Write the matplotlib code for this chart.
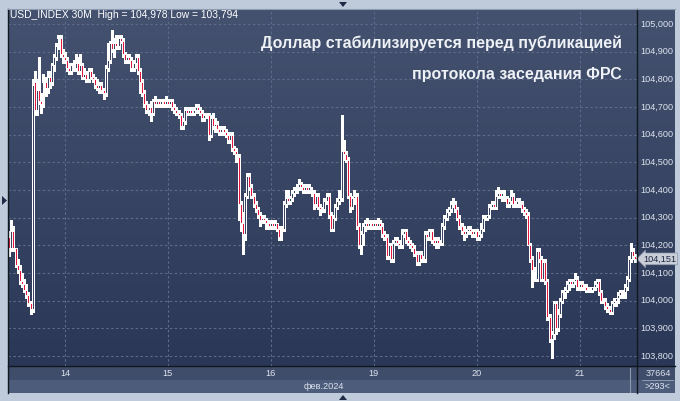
import numpy as np
import matplotlib
matplotlib.use("Agg")
import matplotlib.pyplot as plt
from matplotlib.collections import LineCollection, PolyCollection
from matplotlib.patches import Polygon, Rectangle

# ---------------- data (30-minute bars, USD_INDEX) ----------------
opens = [
    # Feb 13
    104.23, 104.19, 104.25, 104.19, 104.13, 104.11, 104.07, 104.06, 104.04, 104.02, 103.99, 103.97,
    104.79, 104.69, 104.76, 104.72, 104.71, 104.79, 104.77, 104.81, 104.79, 104.85, 104.88, 104.92, 104.95, 104.89,
    # Feb 14
    104.88, 104.87, 104.84, 104.83, 104.85, 104.84, 104.86, 104.83, 104.85, 104.81, 104.82, 104.80,
    104.83, 104.81, 104.80, 104.78, 104.77, 104.78, 104.76, 104.75, 104.84, 104.87, 104.93, 104.91,
    104.93, 104.92, 104.95, 104.94, 104.89, 104.87, 104.88, 104.87, 104.84, 104.86, 104.88, 104.83,
    104.79, 104.75, 104.71, 104.69, 104.70, 104.68, 104.72, 104.71, 104.72, 104.71, 104.72, 104.71,
    # Feb 15
    104.72, 104.71, 104.72, 104.70, 104.69, 104.68, 104.67, 104.63, 104.65, 104.69, 104.68, 104.69,
    104.68, 104.69, 104.70, 104.69, 104.68, 104.66, 104.67, 104.67, 104.60, 104.66, 104.63, 104.64,
    104.62, 104.61, 104.62, 104.61, 104.60, 104.58, 104.60, 104.55, 104.54, 104.52, 104.35, 104.28,
    104.24, 104.38, 104.45, 104.41, 104.38, 104.35, 104.33, 104.31, 104.29, 104.30, 104.29, 104.28,
    # Feb 16
    104.27, 104.28, 104.27, 104.28, 104.26, 104.23, 104.26, 104.35, 104.37, 104.36, 104.37, 104.39,
    104.40, 104.41, 104.42, 104.41, 104.40, 104.41, 104.40, 104.41, 104.39, 104.35, 104.38, 104.34,
    104.33, 104.33, 104.36, 104.38, 104.31, 104.26, 104.30, 104.34, 104.36, 104.37, 104.54, 104.53,
    104.51, 104.38, 104.34, 104.37, 104.38, 104.27, 104.20, 104.24, 104.27, 104.28, 104.27, 104.28,
    # Feb 19
    104.27, 104.28, 104.27, 104.28, 104.27, 104.24, 104.23, 104.16, 104.20, 104.15, 104.21, 104.22,
    104.21, 104.20, 104.24, 104.25, 104.22, 104.21, 104.20, 104.19, 104.17, 104.14, 104.17, 104.15,
    104.15, 104.24, 104.23, 104.25, 104.22, 104.21, 104.22, 104.21, 104.21, 104.27, 104.30, 104.32,
    104.33, 104.35, 104.35, 104.33, 104.30, 104.27, 104.25, 104.24, 104.25, 104.26, 104.25, 104.24,
    # Feb 20
    104.25, 104.23, 104.24, 104.26, 104.30, 104.30, 104.31, 104.34, 104.35, 104.34, 104.38, 104.39,
    104.38, 104.39, 104.37, 104.35, 104.36, 104.38, 104.35, 104.35, 104.36, 104.35, 104.33, 104.32,
    104.31, 104.20, 104.15, 104.11, 104.08, 104.18, 104.15, 104.08, 104.14, 104.07, 103.94, 103.86,
    103.88, 103.99, 103.90, 103.95, 104.00, 104.03, 104.04, 104.06, 104.07, 104.06, 104.07, 104.08,
    # Feb 21
    104.05, 104.06, 104.05, 104.05, 104.04, 104.04, 104.04, 104.05, 104.06, 104.07, 104.03, 104.00,
    104.00, 103.98, 103.97, 103.96, 103.99, 104.00, 104.01, 104.02, 104.03, 104.03, 104.05, 104.08,
    104.15, 104.18, 104.16,
]
highs = [
    104.25, 104.29, 104.27, 104.19, 104.15, 104.13, 104.10, 104.08, 104.06, 104.03, 104.00, 104.80,
    104.83, 104.80, 104.88, 104.75, 104.82, 104.81, 104.83, 104.83, 104.86, 104.89, 104.93, 104.96, 104.96, 104.91,
    104.90, 104.88, 104.86, 104.86, 104.87, 104.89, 104.88, 104.89, 104.86, 104.84, 104.83, 104.84,
    104.84, 104.82, 104.81, 104.80, 104.79, 104.79, 104.77, 104.85, 104.93, 104.94, 104.978, 104.95,
    104.96, 104.96, 104.96, 104.95, 104.90, 104.89, 104.89, 104.88, 104.87, 104.89, 104.89, 104.84,
    104.80, 104.76, 104.72, 104.71, 104.72, 104.73, 104.74, 104.73, 104.73, 104.73, 104.73, 104.74,
    104.73, 104.73, 104.73, 104.71, 104.70, 104.69, 104.68, 104.66, 104.70, 104.70, 104.70, 104.70,
    104.70, 104.71, 104.71, 104.70, 104.69, 104.68, 104.68, 104.68, 104.67, 104.68, 104.66, 104.65,
    104.63, 104.63, 104.63, 104.62, 104.61, 104.61, 104.61, 104.56, 104.55, 104.53, 104.36, 104.32,
    104.39, 104.46, 104.46, 104.42, 104.39, 104.36, 104.34, 104.32, 104.31, 104.31, 104.30, 104.29,
    104.29, 104.29, 104.29, 104.28, 104.27, 104.27, 104.36, 104.40, 104.40, 104.38, 104.40, 104.41,
    104.42, 104.44, 104.43, 104.42, 104.42, 104.42, 104.42, 104.41, 104.40, 104.39, 104.39, 104.35,
    104.34, 104.37, 104.39, 104.39, 104.32, 104.31, 104.35, 104.37, 104.40, 104.67, 104.58, 104.54,
    104.52, 104.39, 104.38, 104.40, 104.39, 104.28, 104.25, 104.28, 104.29, 104.30, 104.29, 104.29,
    104.29, 104.29, 104.30, 104.29, 104.28, 104.25, 104.24, 104.21, 104.21, 104.22, 104.23, 104.23,
    104.22, 104.26, 104.26, 104.26, 104.23, 104.22, 104.21, 104.20, 104.18, 104.18, 104.18, 104.16,
    104.25, 104.25, 104.26, 104.26, 104.23, 104.23, 104.23, 104.22, 104.28, 104.31, 104.33, 104.34,
    104.36, 104.37, 104.36, 104.34, 104.31, 104.28, 104.27, 104.26, 104.27, 104.27, 104.26, 104.26,
    104.26, 104.25, 104.28, 104.31, 104.31, 104.31, 104.35, 104.36, 104.36, 104.40, 104.41, 104.40,
    104.40, 104.40, 104.38, 104.37, 104.40, 104.39, 104.36, 104.37, 104.37, 104.36, 104.34, 104.33,
    104.32, 104.21, 104.16, 104.12, 104.19, 104.19, 104.16, 104.15, 104.15, 104.08, 103.95, 103.89,
    104.00, 104.00, 103.97, 104.01, 104.04, 104.05, 104.07, 104.08, 104.08, 104.08, 104.10, 104.09,
    104.07, 104.07, 104.06, 104.06, 104.05, 104.05, 104.05, 104.07, 104.08, 104.08, 104.04, 104.01,
    104.01, 103.99, 103.98, 104.00, 104.01, 104.01, 104.03, 104.04, 104.04, 104.06, 104.09, 104.16,
    104.21, 104.19, 104.17,
]
lows = [
    104.16, 104.18, 104.18, 104.12, 104.10, 104.06, 104.05, 104.03, 104.01, 103.98, 103.95, 103.96,
    104.67, 104.67, 104.71, 104.68, 104.70, 104.74, 104.75, 104.77, 104.78, 104.83, 104.87, 104.91, 104.88, 104.86,
    104.86, 104.83, 104.82, 104.82, 104.83, 104.83, 104.82, 104.82, 104.80, 104.80, 104.79, 104.79,
    104.80, 104.79, 104.77, 104.76, 104.75, 104.75, 104.73, 104.74, 104.83, 104.86, 104.90, 104.88,
    104.91, 104.91, 104.93, 104.88, 104.86, 104.86, 104.86, 104.83, 104.83, 104.84, 104.82, 104.75,
    104.74, 104.70, 104.68, 104.67, 104.65, 104.67, 104.70, 104.70, 104.70, 104.70, 104.70, 104.70,
    104.70, 104.70, 104.69, 104.68, 104.67, 104.66, 104.62, 104.62, 104.64, 104.67, 104.67, 104.67,
    104.67, 104.68, 104.68, 104.67, 104.65, 104.65, 104.66, 104.58, 104.59, 104.62, 104.61, 104.61,
    104.60, 104.60, 104.60, 104.59, 104.57, 104.57, 104.54, 104.53, 104.50, 104.29, 104.25, 104.17,
    104.22, 104.37, 104.40, 104.37, 104.34, 104.32, 104.30, 104.27, 104.28, 104.28, 104.26, 104.26,
    104.26, 104.26, 104.26, 104.25, 104.22, 104.22, 104.25, 104.34, 104.35, 104.35, 104.36, 104.38,
    104.39, 104.40, 104.40, 104.39, 104.39, 104.39, 104.39, 104.38, 104.33, 104.34, 104.33, 104.31,
    104.32, 104.32, 104.35, 104.30, 104.25, 104.25, 104.29, 104.33, 104.35, 104.36, 104.51, 104.50,
    104.37, 104.32, 104.33, 104.35, 104.26, 104.19, 104.17, 104.20, 104.25, 104.26, 104.26, 104.26,
    104.26, 104.26, 104.26, 104.26, 104.23, 104.22, 104.15, 104.15, 104.14, 104.14, 104.20, 104.20,
    104.19, 104.19, 104.23, 104.21, 104.20, 104.19, 104.18, 104.16, 104.13, 104.13, 104.14, 104.14,
    104.14, 104.22, 104.22, 104.21, 104.20, 104.19, 104.19, 104.20, 104.20, 104.26, 104.29, 104.31,
    104.32, 104.34, 104.32, 104.29, 104.26, 104.24, 104.22, 104.23, 104.24, 104.24, 104.23, 104.23,
    104.22, 104.22, 104.23, 104.25, 104.29, 104.29, 104.30, 104.33, 104.33, 104.33, 104.37, 104.37,
    104.36, 104.36, 104.34, 104.34, 104.35, 104.34, 104.34, 104.34, 104.34, 104.32, 104.31, 104.30,
    104.20, 104.14, 104.05, 104.07, 104.07, 104.14, 104.07, 104.07, 104.06, 103.93, 103.85, 103.794,
    103.86, 103.88, 103.89, 103.94, 103.99, 104.01, 104.03, 104.04, 104.05, 104.05, 104.06, 104.04,
    104.04, 104.04, 104.04, 104.03, 104.03, 104.03, 104.03, 104.04, 104.05, 104.02, 103.99, 103.99,
    103.97, 103.96, 103.95, 103.95, 103.98, 103.98, 103.99, 104.01, 104.01, 104.01, 104.04, 104.07,
    104.14, 104.15, 104.14,
]
closes = [
    104.19, 104.25, 104.19, 104.13, 104.11, 104.07, 104.06, 104.04, 104.02, 103.99, 103.97, 104.78,
    104.69, 104.76, 104.72, 104.71, 104.79, 104.77, 104.81, 104.79, 104.85, 104.88, 104.92, 104.95, 104.89, 104.88,
    104.87, 104.84, 104.83, 104.85, 104.84, 104.86, 104.83, 104.85, 104.81, 104.82, 104.80, 104.83,
    104.81, 104.80, 104.78, 104.77, 104.78, 104.76, 104.75, 104.84, 104.87, 104.93, 104.91, 104.93,
    104.92, 104.95, 104.94, 104.89, 104.87, 104.88, 104.87, 104.84, 104.86, 104.88, 104.83, 104.79,
    104.75, 104.71, 104.69, 104.70, 104.68, 104.72, 104.71, 104.72, 104.71, 104.72, 104.71, 104.72,
    104.71, 104.72, 104.70, 104.69, 104.68, 104.67, 104.63, 104.65, 104.69, 104.68, 104.69, 104.68,
    104.69, 104.70, 104.69, 104.68, 104.66, 104.67, 104.67, 104.60, 104.66, 104.63, 104.64, 104.62,
    104.61, 104.62, 104.61, 104.60, 104.58, 104.60, 104.55, 104.54, 104.53, 104.35, 104.28, 104.24,
    104.38, 104.45, 104.41, 104.38, 104.35, 104.33, 104.31, 104.29, 104.30, 104.29, 104.28, 104.27,
    104.28, 104.27, 104.28, 104.26, 104.23, 104.26, 104.35, 104.37, 104.36, 104.37, 104.39, 104.40,
    104.41, 104.42, 104.41, 104.40, 104.41, 104.40, 104.41, 104.39, 104.35, 104.38, 104.34, 104.33,
    104.33, 104.36, 104.38, 104.31, 104.26, 104.30, 104.34, 104.36, 104.37, 104.54, 104.53, 104.51,
    104.38, 104.34, 104.37, 104.38, 104.27, 104.20, 104.24, 104.27, 104.28, 104.27, 104.28, 104.27,
    104.28, 104.27, 104.28, 104.27, 104.24, 104.23, 104.16, 104.20, 104.15, 104.21, 104.22, 104.21,
    104.20, 104.24, 104.25, 104.22, 104.21, 104.20, 104.19, 104.17, 104.14, 104.17, 104.15, 104.15,
    104.24, 104.23, 104.25, 104.22, 104.21, 104.22, 104.21, 104.21, 104.27, 104.30, 104.32, 104.33,
    104.35, 104.35, 104.33, 104.30, 104.27, 104.25, 104.24, 104.25, 104.26, 104.25, 104.24, 104.25,
    104.23, 104.24, 104.26, 104.30, 104.30, 104.31, 104.34, 104.35, 104.34, 104.38, 104.39, 104.38,
    104.39, 104.37, 104.35, 104.36, 104.38, 104.35, 104.35, 104.36, 104.35, 104.33, 104.32, 104.31,
    104.20, 104.15, 104.11, 104.08, 104.18, 104.15, 104.08, 104.14, 104.07, 103.94, 103.86, 103.88,
    103.99, 103.90, 103.95, 104.00, 104.03, 104.04, 104.06, 104.07, 104.06, 104.07, 104.08, 104.05,
    104.06, 104.05, 104.05, 104.04, 104.04, 104.04, 104.05, 104.06, 104.07, 104.03, 104.00, 104.00,
    103.98, 103.97, 103.96, 103.99, 104.00, 104.01, 104.02, 104.03, 104.03, 104.05, 104.08, 104.15,
    104.18, 104.16, 104.151,
]
day_labels = ["14", "15", "16", "19", "20", "21"]
day_first_bar = [26, 74, 122, 170, 218, 266]
price_ticks = [103.8, 103.9, 104.0, 104.1, 104.2, 104.3, 104.4, 104.5, 104.6, 104.7, 104.8, 104.9, 105.0]
month_label = "фев.2024"
header = "USD_INDEX 30M  High = 104,978 Low = 103,794"
title1 = "Доллар стабилизируется перед публикацией"
title2 = "протокола заседания ФРС"
last_price = 104.151
footer_top = "37664"
footer_bot = ">293<"

# ---------------- figure ----------------
W, H = 680, 401
fig = plt.figure(figsize=(W / 100, H / 100), dpi=100)
fig.patch.set_facecolor("#bfcbda")

def fx(x):
    return x / W

def fy(y):
    return 1 - y / H

L, R, T, B = 8, 637, 9, 366
RP = 675  # right panel end

# background gradient (plot + right panel)
bg = fig.add_axes([fx(L), fy(B), fx(RP - L), (B - T) / H], zorder=0)
grad = np.linspace(0, 1, 256).reshape(-1, 1)
top_c = np.array([68, 82, 112]) / 255
bot_c = np.array([43, 55, 86]) / 255
img = top_c[None, None, :] * (1 - grad[:, :, None]) + bot_c[None, None, :] * grad[:, :, None]
bg.imshow(img, aspect="auto", extent=[0, 1, 0, 1], interpolation="bilinear")
bg.set_axis_off()

# bottom date panel
fig.patches.append(Rectangle((fx(L), fy(380)), fx(RP - L), (380 - B) / H, transform=fig.transFigure,
                             facecolor="#3f4c6a", edgecolor="none", zorder=1))
fig.patches.append(Rectangle((fx(L), fy(393)), fx(RP - L), (393 - 380) / H, transform=fig.transFigure,
                             facecolor="#4d5c7b", edgecolor="none", zorder=1))

ax = fig.add_axes([fx(L), fy(B), fx(R - L), (B - T) / H], zorder=2)
ax.set_facecolor("none")
n = min(len(opens), len(highs), len(lows), len(closes))
xi = np.arange(n)
ax.set_xlim(-0.55, 292.8)
ylo = 103.8 + (356 - B) / 276.7
yhi = 103.8 + (356 - T) / 276.7
ax.set_ylim(ylo, yhi)

# grid
grid_c = "#5d6c8b"
for p in price_ticks:
    ax.axhline(p, color=grid_c, lw=0.8, ls=(0, (2.2, 2.2)), zorder=1)
for b in day_first_bar:
    ax.axvline(b, color=grid_c, lw=0.8, ls=(0, (2.2, 2.2)), zorder=1)

o = np.array(opens[:n]); h = np.array(highs[:n]); lo = np.array(lows[:n]); c = np.array(closes[:n])
blo = np.minimum(o, c)
bhi = np.maximum(o, c)
segs = []
for i in range(n):
    segs.append([(xi[i], lo[i]), (xi[i], blo[i])])
    segs.append([(xi[i], bhi[i]), (xi[i], h[i])])
ax.add_collection(LineCollection(segs, colors="white", linewidths=0.8, zorder=3, antialiased=False))

bw = 0.46
down = c < o
up_verts, dn_verts = [], []
for i in range(n):
    v = [(xi[i] - bw, blo[i]), (xi[i] + bw, blo[i]), (xi[i] + bw, bhi[i]), (xi[i] - bw, bhi[i])]
    (dn_verts if down[i] else up_verts).append(v)
ax.add_collection(PolyCollection(up_verts, facecolors="#37425f", edgecolors="white", linewidths=0.65,
                                 zorder=4, antialiased=False))
ax.add_collection(PolyCollection(dn_verts, facecolors="#e5173f", edgecolors="white", linewidths=0.55,
                                 zorder=5, antialiased=False))

for s in ax.spines.values():
    s.set_visible(False)
ax.set_xticks([])
ax.set_yticks([])

# frame lines
fig.add_artist(plt.Line2D([fx(L), fx(L)], [fy(T), fy(393)], color="#101820", lw=1.0, zorder=5))
fig.add_artist(plt.Line2D([fx(R), fx(R)], [fy(T), fy(393)], color="#101820", lw=1.0, zorder=5))
fig.add_artist(plt.Line2D([fx(L), fx(RP)], [fy(B), fy(B)], color="#101820", lw=1.0, zorder=5))
fig.add_artist(plt.Line2D([fx(L), fx(RP)], [fy(T), fy(T)], color="#8d9bb0", lw=0.8, zorder=5))
fig.add_artist(plt.Line2D([fx(630), fx(630)], [fy(368), fy(392)], color="#8e98ab", lw=0.8, zorder=5))
fig.add_artist(plt.Line2D([fx(642), fx(673)], [fy(380), fy(380)], color="#9aa6ba", lw=0.6, zorder=5))

# price labels
ytr = ax.get_yaxis_transform()
for p in price_ticks:
    ax.text((640 - L) / (R - L), p, f"{p:.3f}".replace(".", ","), transform=ytr, ha="left", va="center",
            fontsize=6.6, color="#dde4ee", family="Liberation Sans", clip_on=False, zorder=6)

# last price tag
ax.text((643 - L) / (R - L), last_price, f"{last_price:.3f}".replace(".", ","), transform=ytr,
        ha="left", va="center", fontsize=6.6, color="#1c2740", family="Liberation Sans", clip_on=False, zorder=8,
        bbox=dict(boxstyle="larrow,pad=0.15", facecolor="#c9ced8", edgecolor="#8d96a8", lw=0.5))

# day labels
xtr = ax.get_xaxis_transform()
for lab, b in zip(day_labels, day_first_bar):
    ax.text(b, -(374 - B) / (B - T), lab, transform=xtr, ha="center", va="center", fontsize=6.6,
            color="#dde4ee", family="Liberation Sans", clip_on=False, zorder=6)
fig.text(fx(324), fy(386.5), month_label, ha="center", va="center", fontsize=6.6, color="#dde4ee",
         family="Liberation Sans", zorder=6)
fig.text(fx(658), fy(373), footer_top, ha="center", va="center", fontsize=6.6, color="#dde4ee",
         family="Liberation Sans", zorder=6)
fig.text(fx(657), fy(386.5), footer_bot, ha="center", va="center", fontsize=6.6, color="#dde4ee",
         family="Liberation Sans", zorder=6)

# header and title
fig.text(fx(10), fy(15), header, ha="left", va="center", fontsize=7.4, color="white",
         family="Liberation Sans", zorder=7)
fig.text(fx(622), fy(48.3), title1, ha="right", va="baseline", fontsize=11.5, color="#eef1f5",
         family="Liberation Sans", fontweight="bold", zorder=7)
fig.text(fx(622), fy(79.5), title2, ha="right", va="baseline", fontsize=11.5, color="#eef1f5",
         family="Liberation Sans", fontweight="bold", zorder=7)

# small navigation triangles
tri_c = "#1f2b45"
fig.patches.append(Polygon([(fx(339), fy(2)), (fx(347), fy(2)), (fx(343), fy(7))], closed=True,
                           transform=fig.transFigure, facecolor=tri_c, edgecolor="none", zorder=9))
fig.patches.append(Polygon([(fx(2), fy(196)), (fx(2), fy(205)), (fx(7), fy(200.5))], closed=True,
                           transform=fig.transFigure, facecolor=tri_c, edgecolor="none", zorder=9))
fig.patches.append(Polygon([(fx(339), fy(400)), (fx(347), fy(400)), (fx(343), fy(395))], closed=True,
                           transform=fig.transFigure, facecolor=tri_c, edgecolor="none", zorder=9))

fig.savefig("out.png", dpi=100, facecolor=fig.get_facecolor())
